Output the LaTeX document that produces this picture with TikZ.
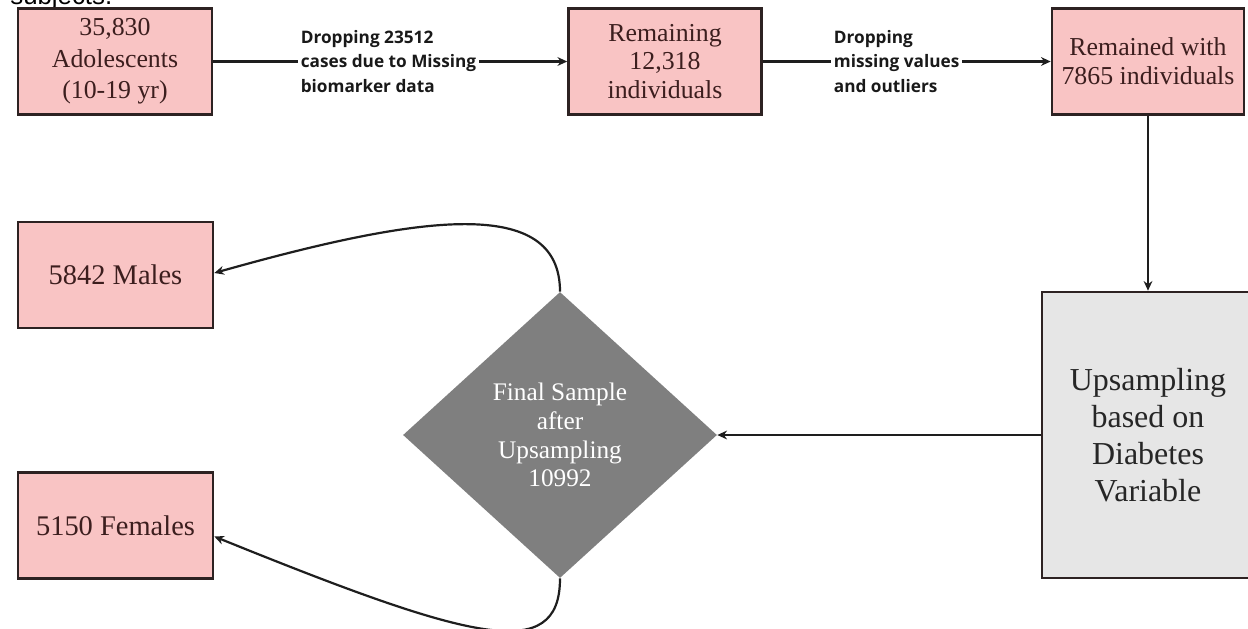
\documentclass[tikz,border=0pt]{standalone}
\usepackage{fontspec}
\setmainfont{Liberation Serif}
\newfontfamily\lblfont{Open Sans}
\newfontfamily\subjfont{Liberation Sans}
\usetikzlibrary{shapes.geometric,arrows.meta}
\newdimen\px
\px=0.02cm
\definecolor{pinkfill}{RGB}{249,196,196}
\definecolor{boxline}{RGB}{45,34,34}
\definecolor{boxtext}{RGB}{60,30,30}
\definecolor{grayfill}{RGB}{230,230,230}
\definecolor{diafill}{RGB}{127,127,127}
\definecolor{connline}{RGB}{30,30,30}
\tikzset{
  pinkbox/.style={draw=boxline, line width=1.5pt, fill=pinkfill, text=boxtext, align=center,
    inner sep=0pt, font=\fontsize{14.7pt}{16.4pt}\selectfont},
  graybox/.style={draw=boxline, line width=1.5pt, fill=grayfill, text=black!85, align=center,
    inner sep=0pt, font=\fontsize{18.2pt}{21pt}\selectfont},
  diabox/.style={diamond, fill=diafill, text=white, align=center, inner sep=0pt,
    font=\fontsize{14.4pt}{16.4pt}\selectfont},
  conn/.style={draw=connline, line width=1.25pt, -{Stealth[length=5.5pt,width=5pt]}},
  lbl/.style={fill=white, align=left, inner xsep=1.5pt, inner ysep=0pt, text=black!90,
    font=\lblfont\bfseries\fontsize{9.8pt}{14.2pt}\selectfont}
}
\begin{document}
\begin{tikzpicture}[x=0.02cm, y=-0.02cm]
\fill[white] (0,0) rectangle (1248,629);
\useasboundingbox (0,0) rectangle (1248,629);

\node[anchor=base west, inner sep=0pt, font=\subjfont\fontsize{14.7pt}{16pt}\selectfont] (subj) at (10,4) {subjects.};

\node[pinkbox, font=\fontsize{14.7pt}{18pt}\selectfont, minimum width=194\px, minimum height=106\px] (b1) at (115,61.5)
  {35,830\\Adolescents\\(10-19 yr)};
\node[pinkbox, minimum width=193\px, minimum height=106\px] (b2) at (665,61.5)
  {Remaining\\12,318\\individuals};
\node[pinkbox, minimum width=192\px, minimum height=106\px] (b3) at (1148,61.5)
  {Remained with\\7865 individuals};

\node[graybox, minimum width=212\px, minimum height=286\px] (up) at (1148,435)
  {Upsampling\\based on\\Diabetes\\Variable};

\node[diabox, minimum width=314\px, minimum height=286\px] (dia) at (560,435)
  {Final Sample\\after\\Upsampling\\10992};

\node[pinkbox, font=\fontsize{16.2pt}{18pt}\selectfont, minimum width=195\px, minimum height=106\px] (males) at (115.5,275)
  {5842 Males};
\node[pinkbox, font=\fontsize{16.2pt}{18pt}\selectfont, minimum width=195\px, minimum height=106\px] (females) at (115.5,525.5)
  {5150 Females};

\draw[conn] (b1) -- node[lbl, pos=0.495] {Dropping 23512\\cases due to Missing\\biomarker data} (b2);
\draw[conn] (b2) -- node[lbl, pos=0.465] {Dropping\\missing values\\and outliers} (b3);
\draw[conn] (b3.south) -- (b3.south |- up.north);
\draw[conn] (up.west) -- (dia.east);
\draw[conn] (dia.north) .. controls (560,195) and (420,215) .. ([yshift=2\px]males.east);
\draw[conn] (dia.south) .. controls (560,665) and (470,640) .. ([yshift=-11\px]females.east);
\end{tikzpicture}
\end{document}
